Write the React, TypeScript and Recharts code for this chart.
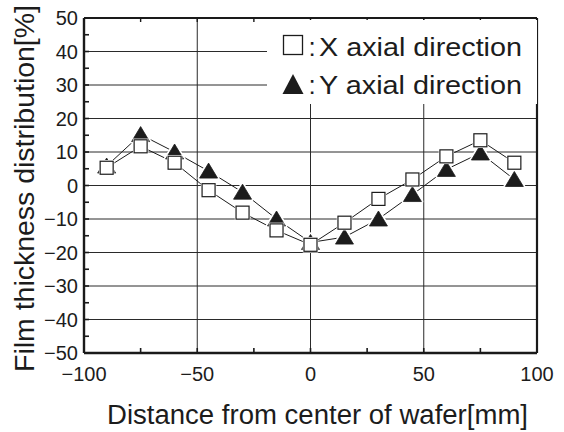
import React from 'react';
import { LineChart, Line, XAxis, YAxis, CartesianGrid, Legend, Customized } from 'recharts';

const positions = [-90, -75, -60, -45, -30, -15, 0, 15, 30, 45, 60, 75, 90];
const xAxialValues = [5.3, 11.7, 6.8, -1.4, -8.1, -13.4, -17.7, -11.1, -4.0, 1.8, 8.7, 13.5, 6.8];
const yAxialValues = [5.8, 15.2, 10.0, 4.3, -2.0, -10.0, -17.0, -15.4, -10.0, -2.7, 4.8, 9.7, 1.8];

const xTicks = [-100, -75, -50, -25, 0, 25, 50, 75, 100];
const xLabelTicks = [-100, -50, 0, 50, 100];
const yTicks = [-50, -45, -40, -35, -30, -25, -20, -15, -10, -5, 0, 5, 10, 15, 20, 25, 30, 35, 40, 45, 50];
const yLabelTicks = [-50, -40, -30, -20, -10, 0, 10, 20, 30, 40, 50];
const xGridTicks = [-50, 0, 50];
const yGridTicks = [-40, -30, -20, -10, 0, 10, 20, 30, 40];

const legendLabels = ['X axial direction', 'Y axial direction'];
const xTitle = 'Distance from center of wafer[mm]';
const yTitle = 'Film thickness distribution[%]';

const data = positions.map((p, i) => ({ pos: p, xAxial: xAxialValues[i], yAxial: yAxialValues[i] }));

const FONT = '"Liberation Sans", Arial, Helvetica, sans-serif';
const INK = '#1c1c1c';
const AXIS = '#1a1a1a';

const fmt = (v: number) => (v < 0 ? '\u2212' + Math.abs(v) : String(v));

const BottomTick = (props: any) => {
  const { x, y, payload } = props;
  const v = payload.value;
  return (
    <g>
      <line x1={x} x2={x} y1={y} y2={y - 5} stroke={AXIS} strokeWidth={1.6} />
      {xLabelTicks.includes(v) && (
        <text x={x} y={y + 28} textAnchor="middle" fontFamily={FONT} fontSize={20} fill={INK}>
          {fmt(v)}
        </text>
      )}
    </g>
  );
};

const TopTick = (props: any) => {
  const { x, y } = props;
  return <line x1={x} x2={x} y1={y} y2={y + 4} stroke={AXIS} strokeWidth={1.4} />;
};

const LeftTick = (props: any) => {
  const { x, y, payload } = props;
  const v = payload.value;
  return (
    <g>
      <line x1={x} x2={x + 5} y1={y} y2={y} stroke={AXIS} strokeWidth={1.6} />
      {yLabelTicks.includes(v) && (
        <text x={x - 6} y={y + 7} textAnchor="end" fontFamily={FONT} fontSize={20} fill={INK}>
          {fmt(v)}
        </text>
      )}
    </g>
  );
};

const RightTick = (props: any) => {
  const { x, y } = props;
  return <line x1={x} x2={x + 3} y1={y} y2={y} stroke={AXIS} strokeWidth={1.4} />;
};

const SquareDot = (props: any) => {
  const { cx, cy, index } = props;
  if (cx == null || cy == null) return <g key={'s' + index} />;
  const s = 13;
  return (
    <g key={'s' + index}>
      <rect x={cx - s / 2} y={cy - s / 2} width={s} height={s} fill="#fff" stroke="#fff" strokeWidth={2.5} />
      <rect x={cx - s / 2} y={cy - s / 2} width={s} height={s} fill="#fff" stroke={INK} strokeWidth={1.2} />
    </g>
  );
};

const TriangleDot = (props: any) => {
  const { cx, cy, index } = props;
  if (cx == null || cy == null) return <g key={'t' + index} />;
  const pts = `${cx},${cy - 8} ${cx - 9},${cy + 7} ${cx + 9},${cy + 7}`;
  return (
    <g key={'t' + index}>
      <polygon points={pts} fill="#fff" stroke="#fff" strokeWidth={4} strokeLinejoin="round" />
      <polygon points={pts} fill={INK} stroke={INK} strokeWidth={0.8} />
    </g>
  );
};

const LegendBox = () => (
  <svg width={270} height={84} style={{ display: 'block' }}>
    <rect x={0} y={0} width={270} height={84} fill="#fff" />
    <rect x={16.5} y={15.5} width={19} height={19} fill="#fff" stroke={INK} strokeWidth={1.3} />
    <text x={45} y={35.5} textAnchor="middle" fontFamily={FONT} fontSize={26} fill={INK}>:</text>
    <text x={52} y={35.5} fontFamily={FONT} fontSize={26} fill={INK} textLength={203} lengthAdjust="spacingAndGlyphs">
      {legendLabels[0]}
    </text>
    <polygon points="26,54 15.5,74 36.5,74" fill={INK} />
    <text x={45} y={73.5} textAnchor="middle" fontFamily={FONT} fontSize={26} fill={INK}>:</text>
    <text x={52} y={73.5} fontFamily={FONT} fontSize={26} fill={INK} textLength={203} lengthAdjust="spacingAndGlyphs">
      {legendLabels[1]}
    </text>
  </svg>
);

const Titles = () => (
  <g>
    <text x={317.5} y={424} textAnchor="middle" fontFamily={FONT} fontSize={27} fill={INK} textLength={421} lengthAdjust="spacingAndGlyphs">
      {xTitle}
    </text>
    <text transform="translate(33.5,188.5) rotate(-90)" x={0} y={0} textAnchor="middle" fontFamily={FONT} fontSize={27} fill={INK} textLength={367} lengthAdjust="spacingAndGlyphs">
      {yTitle}
    </text>
  </g>
);

export default function App() {
  return (
    <div style={{ position: 'absolute', left: 0, top: 0, width: 564, height: 432, background: '#fff' }}>
      <LineChart width={564} height={432} data={data} margin={{ top: 0, right: 0, bottom: 0, left: 0 }}>
        <XAxis
          xAxisId="b"
          dataKey="pos"
          type="number"
          domain={[-100, 100]}
          ticks={xTicks}
          interval={0}
          height={79}
          tickSize={0}
          tickMargin={0}
          tickLine={false}
          axisLine={{ stroke: AXIS, strokeWidth: 2.4 }}
          tick={<BottomTick />}
        />
        <XAxis
          xAxisId="t"
          orientation="top"
          dataKey="pos"
          type="number"
          domain={[-100, 100]}
          ticks={xTicks}
          interval={0}
          height={18}
          tickSize={0}
          tickMargin={0}
          tickLine={false}
          axisLine={{ stroke: AXIS, strokeWidth: 2.2 }}
          tick={<TopTick />}
        />
        <YAxis
          yAxisId="l"
          type="number"
          domain={[-50, 50]}
          ticks={yTicks}
          interval={0}
          width={84}
          tickSize={0}
          tickMargin={0}
          tickLine={false}
          axisLine={{ stroke: AXIS, strokeWidth: 2.4 }}
          tick={<LeftTick />}
        />
        <YAxis
          yAxisId="r"
          orientation="right"
          type="number"
          domain={[-50, 50]}
          ticks={yTicks}
          interval={0}
          width={27}
          tickSize={0}
          tickMargin={0}
          tickLine={false}
          axisLine={{ stroke: AXIS, strokeWidth: 2.2 }}
          tick={<RightTick />}
        />
        <XAxis xAxisId="g" dataKey="pos" type="number" domain={[-100, 100]} ticks={xGridTicks} height={0} hide />
        <YAxis yAxisId="g" dataKey="xAxial" type="number" domain={[-50, 50]} ticks={yGridTicks} width={0} hide />
        <CartesianGrid xAxisId="g" yAxisId="g" stroke="#2a2a2a" strokeWidth={1} />
        <Line
          xAxisId="b"
          yAxisId="l"
          type="linear"
          dataKey="yAxial"
          stroke={INK}
          strokeWidth={1}
          dot={TriangleDot}
          activeDot={false}
          isAnimationActive={false}
        />
        <Line
          xAxisId="b"
          yAxisId="l"
          type="linear"
          dataKey="xAxial"
          stroke={INK}
          strokeWidth={1}
          dot={SquareDot}
          activeDot={false}
          isAnimationActive={false}
        />
        <Legend
          layout="vertical"
          align="center"
          verticalAlign="middle"
          content={() => <LegendBox />}
          wrapperStyle={{ position: 'absolute', left: 267, top: 20, width: 270, height: 84, lineHeight: 0 }}
        />
        <Customized component={Titles} />
      </LineChart>
    </div>
  );
}
